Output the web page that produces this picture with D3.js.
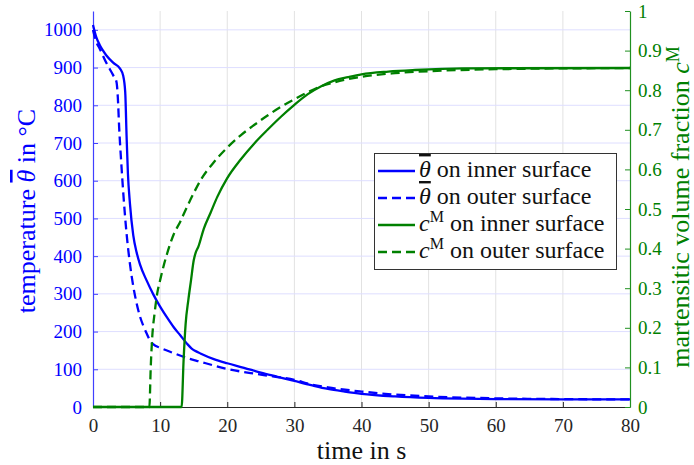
<!DOCTYPE html>
<html>
<head>
<meta charset="utf-8">
<script src="https://cdn.jsdelivr.net/npm/d3@7"></script>
<style>
  body { margin: 0; background: #fff; }
  svg text { font-family: "Liberation Serif", "DejaVu Serif", "Times New Roman", serif; }
</style>
</head>
<body>
<svg width="694" height="465"></svg>
<script>
// time in s / temperature in °C
const thetaInnerT = [0, 0.5, 1, 1.5, 2, 3, 4, 4.5, 4.8, 5.0, 5.2, 5.5, 6, 6.5, 7, 8, 9, 10, 11, 12, 13, 14, 14.7, 15.2, 16, 18, 20, 22.5, 25, 27.5, 30, 32.5, 35, 37.5, 40, 45, 50, 55, 60, 70, 80];
const thetaInner  = [1013, 980, 960, 945, 932, 913, 898, 878, 835, 720, 620, 540, 455, 410, 378, 335, 298, 266, 238, 212, 190, 168, 155, 149, 142, 127, 116, 104, 91, 80, 69, 58, 48, 41, 35, 28, 24, 22, 21, 20, 20];

const thetaOuterT = [0, 0.5, 1, 2, 3, 3.5, 3.7, 3.9, 4.2, 4.5, 5, 5.5, 6, 6.5, 7, 7.5, 8, 8.5, 9, 10, 12, 14, 16, 18, 20, 25, 30, 32.5, 35, 40, 45, 50, 60, 70, 80];
const thetaOuter  = [1000, 968, 950, 912, 880, 862, 820, 740, 650, 570, 460, 380, 320, 275, 240, 215, 195, 176, 166, 157, 143, 130, 120, 110, 101, 86, 72, 60, 52, 41, 33, 28, 23, 21, 20];

// martensitic volume fraction
const cInnerT = [0, 13.2, 13.5, 13.8, 14.2, 14.6, 15.0, 15.3, 15.7, 16.5, 17.5, 18.5, 20, 22, 24, 26, 28, 30, 32, 34, 36, 38, 40, 44, 48, 55, 80];
const cInner  = [0, 0, 0.12, 0.21, 0.27, 0.32, 0.37, 0.39, 0.405, 0.45, 0.49, 0.53, 0.578, 0.625, 0.665, 0.70, 0.733, 0.763, 0.79, 0.81, 0.825, 0.833, 0.84, 0.847, 0.851, 0.855, 0.856];

const cOuterT = [0, 8.4, 8.6, 8.8, 9.2, 9.6, 10, 10.5, 11, 12, 13, 14, 15, 16, 18, 20, 22, 24, 26, 28, 30, 32, 34, 36, 40, 45, 50, 60, 80];
const cOuter  = [0, 0, 0.1, 0.17, 0.24, 0.29, 0.32, 0.355, 0.385, 0.435, 0.468, 0.505, 0.54, 0.572, 0.618, 0.655, 0.686, 0.712, 0.736, 0.758, 0.777, 0.795, 0.81, 0.82, 0.834, 0.843, 0.848, 0.853, 0.856];

const xTicks = d3.range(0, 81, 10);
const yLeftTicks = d3.range(0, 1001, 100);
const yRightTicks = d3.range(0, 11).map(d => d / 10);

const legendLabels = ["on inner surface", "on outer surface", "on inner surface", "on outer surface"];

const blue = "#0000ff", green = "#008000";
const serif = "Liberation Serif, DejaVu Serif, serif";
const svg = d3.select("svg");
const plotL = 93, plotR = 630, plotT = 11, plotB = 407;

const x = d3.scaleLinear().domain([0, 80]).range([plotL, plotR]);
const yL = d3.scaleLinear().domain([0, 1050]).range([plotB, plotT]);
const yR = d3.scaleLinear().domain([0, 1]).range([plotB, plotT]);

// grid
svg.append("g").selectAll("line").data(xTicks.slice(1, -1)).enter().append("line")
    .attr("x1", d => x(d)).attr("x2", d => x(d)).attr("y1", plotT).attr("y2", plotB)
    .style("stroke", "#e2e2e2").style("stroke-width", 1);
svg.append("g").selectAll("line").data(yLeftTicks.slice(1)).enter().append("line")
    .attr("x1", plotL).attr("x2", plotR).attr("y1", d => yL(d)).attr("y2", d => yL(d))
    .style("stroke", "#dedeff").style("stroke-width", 1);

// axes
const xAxis = svg.append("g").attr("transform", `translate(0,${plotB})`)
    .call(d3.axisBottom(x).tickValues(xTicks).tickSizeInner(-5).tickSizeOuter(0).tickPadding(12));
xAxis.attr("font-family", serif);
xAxis.select(".domain").style("stroke", "#262626").style("stroke-width", 1.2);
xAxis.selectAll(".tick line").style("stroke", "#262626");
xAxis.selectAll("text").style("font-size", "19px").style("fill", "#262626");

const yAxisL = svg.append("g").attr("transform", `translate(${plotL},0)`)
    .call(d3.axisLeft(yL).tickValues(yLeftTicks).tickFormat(d3.format("d")).tickSizeInner(-5).tickSizeOuter(0).tickPadding(11));
yAxisL.attr("font-family", serif);
yAxisL.select(".domain").style("stroke", "#4040ff").style("stroke-width", 1.2);
yAxisL.selectAll(".tick line").style("stroke", "#4040ff");
yAxisL.selectAll("text").style("font-size", "19px").style("fill", blue);

const yAxisR = svg.append("g").attr("transform", `translate(${plotR},0)`)
    .call(d3.axisRight(yR).tickValues(yRightTicks).tickFormat(d3.format("~g")).tickSizeInner(-5).tickSizeOuter(0).tickPadding(8));
yAxisR.attr("font-family", serif);
yAxisR.select(".domain").style("stroke", "#209020").style("stroke-width", 1.2);
yAxisR.selectAll(".tick line").style("stroke", "#209020");
yAxisR.selectAll("text").style("font-size", "19px").style("fill", green);

// curves
const series = [
    {t: thetaInnerT, v: thetaInner, y: yL, color: blue, dash: null},
    {t: thetaOuterT, v: thetaOuter, y: yL, color: blue, dash: "9,5"},
    {t: cInnerT, v: cInner, y: yR, color: green, dash: null},
    {t: cOuterT, v: cOuter, y: yR, color: green, dash: "9,5"}
];
series.forEach(s => {
    const line = d3.line().x(i => x(s.t[i])).y(i => s.y(s.v[i])).curve(d3.curveMonotoneX);
    svg.append("path")
        .attr("d", line(d3.range(s.t.length)))
        .style("fill", "none")
        .style("stroke", s.color)
        .style("stroke-width", 2.3)
        .style("stroke-dasharray", s.dash);
});

// axis labels
svg.append("text").attr("x", x(40)).attr("y", 459).attr("text-anchor", "middle")
    .style("font-size", "26px").style("fill", "#111").text("time in s");

const lblL = svg.append("text").attr("transform", `translate(35,${211}) rotate(-90)`)
    .attr("text-anchor", "middle").style("font-size", "26px").style("fill", blue);
lblL.append("tspan").text("temperature ");
lblL.append("tspan").style("font-style", "italic").style("text-decoration", "overline").text("θ");
lblL.append("tspan").text(" in °C");

const lblR = svg.append("text").attr("transform", `translate(689,${207}) rotate(-90)`)
    .attr("text-anchor", "middle").style("font-size", "26px").style("fill", green);
lblR.append("tspan").text("martensitic volume fraction ");
lblR.append("tspan").style("font-style", "italic").text("c");
lblR.append("tspan").attr("dy", -10).style("font-size", "18px").text("M");

// legend
const lg = svg.append("g");
lg.append("rect").attr("x", 374.5).attr("y", 153.5).attr("width", 242).attr("height", 116)
    .style("fill", "#fff").style("stroke", "#333").style("stroke-width", 1);
series.forEach((s, i) => {
    const yy = 171 + i * 27;
    lg.append("line").attr("x1", 378).attr("x2", 415).attr("y1", yy).attr("y2", yy)
        .style("stroke", s.color).style("stroke-width", 2.3).style("stroke-dasharray", s.dash);
    const t = lg.append("text").attr("x", 419).attr("y", yy + 6).style("font-size", "24px").style("fill", "#111");
    if (i < 2) {
        t.append("tspan").style("font-style", "italic").style("text-decoration", "overline").text("θ");
        t.append("tspan").text(" " + legendLabels[i]);
    } else {
        t.append("tspan").style("font-style", "italic").text("c");
        t.append("tspan").attr("dy", -9).style("font-size", "16px").text("M");
        t.append("tspan").attr("dy", 9).text(" " + legendLabels[i]);
    }
});
</script>
</body>
</html>
